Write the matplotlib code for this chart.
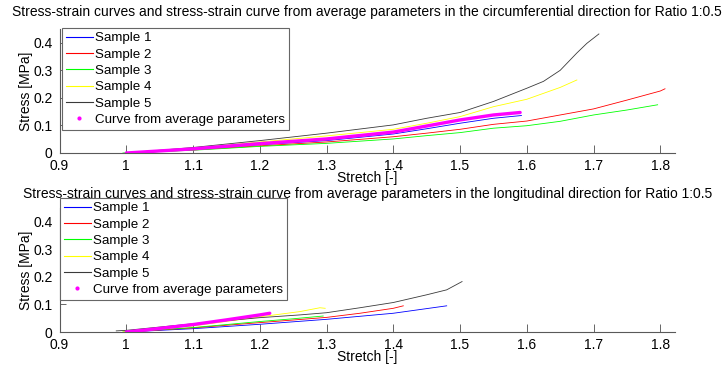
import matplotlib
matplotlib.use("Agg")
import matplotlib.pyplot as plt
from matplotlib.lines import Line2D

plt.rcParams['font.family'] = ['Liberation Sans', 'DejaVu Sans']

# circumferential direction (top panel)
circ_x1 = [1.0, 1.1, 1.2, 1.3, 1.4, 1.45, 1.5, 1.55, 1.592]
circ_y1 = [0.0, 0.013, 0.030, 0.045, 0.069, 0.088, 0.108, 0.126, 0.136]
circ_x2 = [1.0, 1.1, 1.2, 1.3, 1.4, 1.45, 1.5, 1.55, 1.6, 1.65, 1.7, 1.75, 1.8, 1.807]
circ_y2 = [0.0, 0.011, 0.026, 0.040, 0.059, 0.072, 0.086, 0.104, 0.116, 0.138, 0.160, 0.192, 0.225, 0.233]
circ_x3 = [0.995, 1.1, 1.2, 1.3, 1.4, 1.45, 1.5, 1.55, 1.6, 1.65, 1.7, 1.75, 1.796]
circ_y3 = [0.0, 0.010, 0.024, 0.035, 0.051, 0.063, 0.074, 0.090, 0.099, 0.115, 0.138, 0.156, 0.175]
circ_x4 = [1.0, 1.1, 1.2, 1.3, 1.4, 1.45, 1.5, 1.55, 1.6, 1.65, 1.675]
circ_y4 = [0.0, 0.017, 0.040, 0.062, 0.086, 0.108, 0.132, 0.168, 0.195, 0.238, 0.265]
circ_x5 = [1.0, 1.1, 1.2, 1.3, 1.4, 1.45, 1.5, 1.55, 1.6, 1.625, 1.65, 1.675, 1.69, 1.708]
circ_y5 = [0.0, 0.020, 0.045, 0.072, 0.102, 0.126, 0.147, 0.187, 0.235, 0.260, 0.300, 0.363, 0.398, 0.432]
circ_xavg = [1.0, 1.1, 1.2, 1.3, 1.4, 1.45, 1.5, 1.55, 1.59]
circ_yavg = [0.0, 0.015, 0.034, 0.051, 0.076, 0.098, 0.120, 0.138, 0.147]

# longitudinal direction (bottom panel)
long_x1 = [1.0, 1.1, 1.2, 1.3, 1.4, 1.48]
long_y1 = [0.0, 0.012, 0.028, 0.046, 0.068, 0.095]
long_x2 = [1.0, 1.1, 1.2, 1.3, 1.35, 1.4, 1.415]
long_y2 = [0.0, 0.015, 0.034, 0.053, 0.068, 0.086, 0.095]
long_x3 = [0.995, 1.1, 1.2, 1.25, 1.295]
long_y3 = [0.0, 0.016, 0.038, 0.048, 0.058]
long_x4 = [0.995, 1.1, 1.2, 1.26, 1.29, 1.298]
long_y4 = [0.0, 0.022, 0.055, 0.074, 0.088, 0.086]
long_x5 = [0.985, 1.0, 1.1, 1.2, 1.26, 1.3, 1.35, 1.4, 1.45, 1.48, 1.503]
long_y5 = [0.004, 0.006, 0.030, 0.052, 0.062, 0.070, 0.088, 0.107, 0.135, 0.153, 0.183]
long_xavg = [1.0, 1.05, 1.1, 1.15, 1.2, 1.215]
long_yavg = [0.0, 0.013, 0.027, 0.044, 0.062, 0.068]

labels = ['Sample 1', 'Sample 2', 'Sample 3', 'Sample 4', 'Sample 5',
          'Curve from average parameters']
colors = ['blue', 'red', 'lime', 'yellow', '#3a3a3a']
xticks = [0.9, 1.0, 1.1, 1.2, 1.3, 1.4, 1.5, 1.6, 1.7, 1.8]
xticklabels = ['0.9', '1', '1.1', '1.2', '1.3', '1.4', '1.5', '1.6', '1.7', '1.8']
yticks = [0, 0.1, 0.2, 0.3, 0.4]
yticklabels = ['0', '0.1', '0.2', '0.3', '0.4']

panels = [
    ([(circ_x1, circ_y1), (circ_x2, circ_y2), (circ_x3, circ_y3),
      (circ_x4, circ_y4), (circ_x5, circ_y5)], (circ_xavg, circ_yavg),
     'Stress-strain curves and stress-strain curve from average parameters '
     'in the circumferential direction for Ratio 1:0.5'),
    ([(long_x1, long_y1), (long_x2, long_y2), (long_x3, long_y3),
      (long_x4, long_y4), (long_x5, long_y5)], (long_xavg, long_yavg),
     'Stress-strain curves and stress-strain curve from average parameters '
     'in the longitudinal direction for Ratio 1:0.5'),
]

W, H = 723, 369
fig = plt.figure(figsize=(W / 100, H / 100), dpi=100)

# pixel boxes: left, right, top, bottom
boxes = [(59.5, 675, 29, 153), (59.5, 675, 208, 332)]
legend_pos = [(62, 28), (60, 198)]
title_pads = [9, 7.5]
fs = 10

for (samples, avg, title), (l, r, t, b), (lx, ly), tpad in zip(
        panels, boxes, legend_pos, title_pads):
    ax = fig.add_axes([l / W, 1 - b / H, (r - l) / W, (b - t) / H])
    handles = []
    for (xs, ys), c in zip(samples, colors):
        ax.plot(xs, ys, color=c, lw=0.6)
        handles.append(Line2D([], [], color=c, lw=0.8))
    ax.plot(avg[0], avg[1], color='magenta', lw=2.4, solid_capstyle='round')
    handles.append(Line2D([], [], color='magenta', marker='.', ms=4, ls='none'))

    ax.set_xlim(0.9, 1.822)
    ax.set_ylim(0, 0.45)
    ax.set_xticks(xticks)
    ax.set_xticklabels(xticklabels)
    ax.set_yticks(yticks)
    ax.set_yticklabels(yticklabels)
    ax.tick_params(direction='in', length=6, width=0.6, color='0.3',
                   labelsize=fs, pad=4)
    ax.tick_params(axis='y', length=4, pad=5)
    for s in ['top', 'right']:
        ax.spines[s].set_visible(False)
    for s in ['left', 'bottom']:
        ax.spines[s].set_color('0.35')
        ax.spines[s].set_linewidth(0.8)
    ax.set_xlabel('Stretch [-]', fontsize=fs, labelpad=-1)
    ax.set_ylabel('Stress [MPa]', fontsize=fs, labelpad=0)
    ax.set_title(title, fontsize=fs, pad=tpad)

    leg = fig.legend(handles, labels, loc='upper left',
                     bbox_to_anchor=(lx / W, 1 - ly / H), borderaxespad=0,
                     fontsize=9.6, handlelength=2.0, handletextpad=0.2,
                     labelspacing=0.3, borderpad=0.3, fancybox=False,
                     framealpha=1, edgecolor='0.4')
    leg.get_frame().set_linewidth(0.8)

fig.savefig('out.png', dpi=100)
